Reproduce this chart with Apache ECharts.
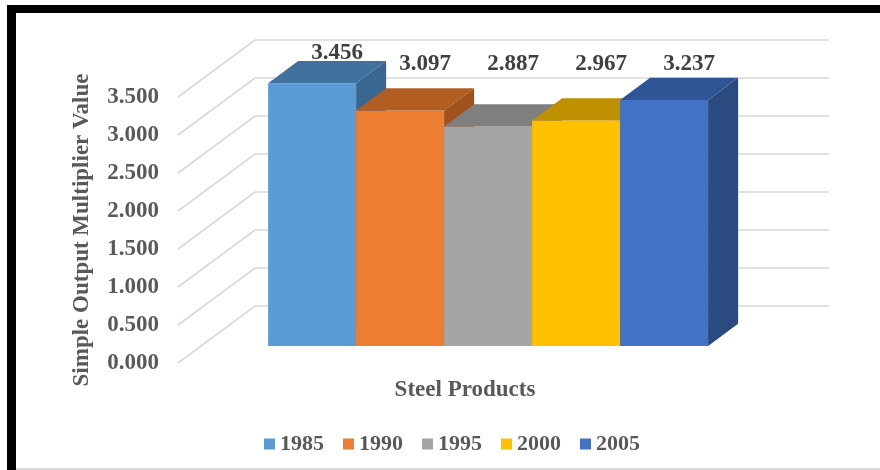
<!DOCTYPE html>
<html>
<head>
<meta charset="utf-8">
<style>
  html, body { margin: 0; padding: 0; background: #fff; }
  #chart { width: 880px; height: 470px; }
</style>
<script src="https://cdn.jsdelivr.net/npm/echarts@6/dist/echarts.min.js"></script>
</head>
<body>
<div id="chart"></div>
<script>
// data
var categories = ['Steel Products'];
var years = ['1985', '1990', '1995', '2000', '2005'];
var values = [3.456, 3.097, 2.887, 2.967, 3.237];
var ticks = [0, 0.5, 1, 1.5, 2, 2.5, 3, 3.5];

// colours: front / top / side of every box
var front = ['#5B9BD5', '#ED7D31', '#A5A5A5', '#FFC000', '#4472C4'];
var top_ = ['#41729F', '#B25D22', '#7F7F7F', '#BF9000', '#2F5597'];
var side = ['#3A6790', '#A0521D', '#737373', '#AD8200', '#2A4A80'];

var FONT = "'Liberation Serif', 'Times New Roman', serif";
var DX = 77, DY = -57;        // depth of the whole floor
var BAR_FROM = 0.3, BAR_DEPTH = 0.39;
var BAR_W = 0.1533;           // share of the category band per bar

var chart = echarts.init(document.getElementById('chart'));

function wallItem(params, api) {
  var p = api.coord([0, api.value(1)]);
  var band = api.size([1, 0])[0];
  var xl = p[0] - band / 2;
  return {
    type: 'polyline',
    shape: { points: [[xl, p[1]], [xl + DX, p[1] + DY], [xl + DX + band, p[1] + DY]] },
    style: { stroke: '#D9D9D9', lineWidth: 1.6, fill: null }
  };
}

function boxItem(params, api) {
  var s = params.seriesIndex - 1;
  var v = api.value(1);
  var base = api.coord([0, 0]);
  var topP = api.coord([0, v]);
  var maxP = api.coord([0, ticks[ticks.length - 1]]);
  var band = api.size([1, 0])[0];
  var bw = band * BAR_W;
  var ox = DX * BAR_FROM, oy = DY * BAR_FROM;
  var ddx = DX * BAR_DEPTH, ddy = DY * BAR_DEPTH;
  var x0 = base[0] - bw * years.length / 2 + s * bw + ox;
  var yb = base[1] + oy;
  var yt = topP[1] + oy;
  var labelY = Math.min(yt + ddy - 8, maxP[1] + DY + 24);
  return {
    type: 'group',
    children: [
      { type: 'rect', shape: { x: x0, y: yt, width: bw, height: yb - yt },
        style: { fill: front[s] } },
      { type: 'polygon', shape: { points: [[x0, yt], [x0 + bw, yt], [x0 + bw + ddx, yt + ddy], [x0 + ddx, yt + ddy]] },
        style: { fill: top_[s] } },
      { type: 'polygon', shape: { points: [[x0 + bw, yt], [x0 + bw + ddx, yt + ddy], [x0 + bw + ddx, yb + ddy], [x0 + bw, yb]] },
        style: { fill: side[s] } },
      { type: 'text', x: x0 + bw / 2 + 25, y: labelY,
        style: { text: v.toFixed(3), fill: '#404040', font: 'bold 23px ' + FONT,
                 align: 'center', verticalAlign: 'middle' } }
    ]
  };
}

var series = [{
  name: 'wall',
  type: 'custom',
  renderItem: wallItem,
  data: ticks.map(function (t) { return [0, t]; }),
  silent: true,
  z: 1
}];
years.forEach(function (y, i) {
  series.push({
    name: y,
    type: 'custom',
    renderItem: boxItem,
    itemStyle: { color: front[i] },
    data: [[0, values[i]]],
    z: 2 + i
  });
});

chart.setOption({
  animation: false,
  grid: { left: 178, right: 128, top: 97, bottom: 107 },
  xAxis: {
    type: 'category',
    data: categories,
    axisLine: { show: false },
    axisTick: { show: false },
    axisLabel: { margin: 16, color: '#595959', fontFamily: FONT, fontWeight: 'bold', fontSize: 23 }
  },
  yAxis: {
    type: 'value',
    min: 0,
    max: 3.5,
    interval: 0.5,
    name: 'Simple Output Multiplier Value',
    nameLocation: 'middle',
    nameGap: 84,
    nameTextStyle: { color: '#595959', fontFamily: FONT, fontWeight: 'bold', fontSize: 23 },
    axisLine: { show: false },
    axisTick: { show: false },
    splitLine: { show: false },
    axisLabel: {
      margin: 19, color: '#595959', fontFamily: FONT, fontWeight: 'bold', fontSize: 23,
      formatter: function (v) { return v.toFixed(3); }
    }
  },
  legend: {
    data: years,
    left: 259,
    top: 428,
    icon: 'rect',
    itemWidth: 11,
    itemHeight: 11,
    itemGap: 19,
    textStyle: { color: '#595959', fontFamily: FONT, fontWeight: 'bold', fontSize: 22 }
  },
  graphic: [
    { type: 'rect', shape: { x: 7, y: 5, width: 873, height: 8 }, style: { fill: '#000' } },
    { type: 'rect', shape: { x: 7, y: 5, width: 9, height: 465 }, style: { fill: '#000' } },
    { type: 'rect', shape: { x: 16, y: 468, width: 864, height: 2 }, style: { fill: '#D9D9D9' } }
  ],
  series: series
});
</script>
</body>
</html>
